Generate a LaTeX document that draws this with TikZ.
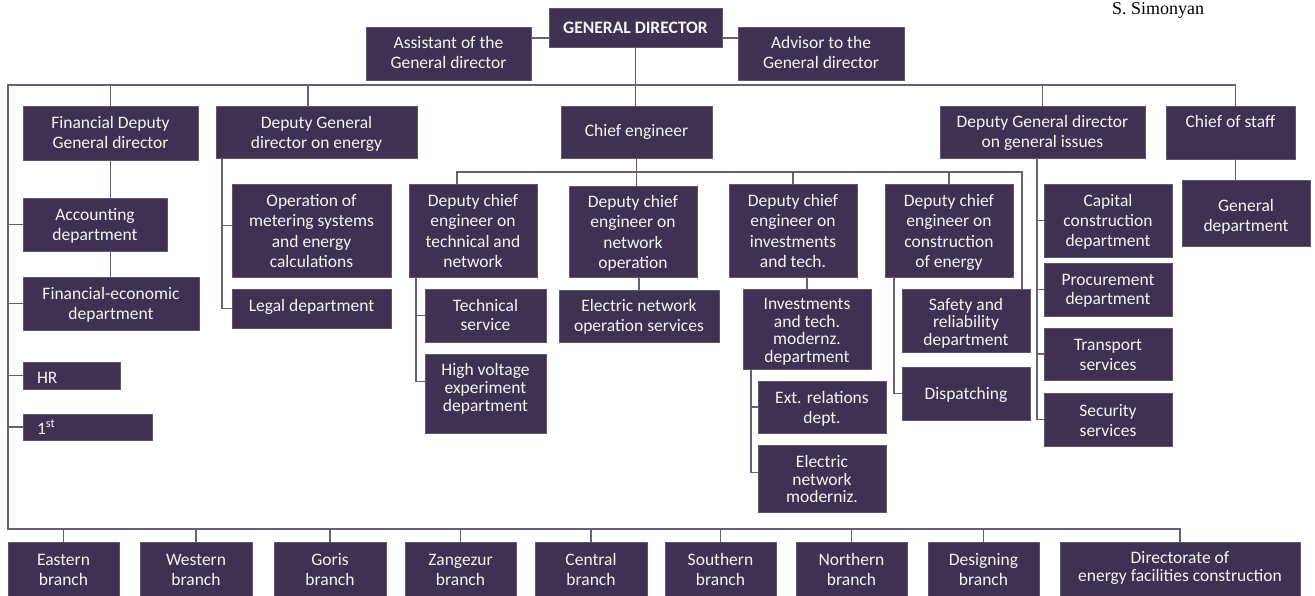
\documentclass[tikz,border=0pt]{standalone}
\usepackage{fontspec}
\setmainfont{Carlito}
\newfontfamily\timesf{Liberation Serif}
\definecolor{boxfill}{RGB}{63,49,82}
\definecolor{boxedge}{RGB}{95,85,110}
\definecolor{linec}{RGB}{105,95,122}
\tikzset{
  box/.style={fill=boxfill, draw=boxedge, line width=0.7pt, inner sep=0pt, outer sep=0pt, text=white!96!black},
  conn/.style={draw=linec, line width=1.1pt}
}
% #1 baselineskip, #2 name, #3 x1, #4 y1, #5 x2, #6 y2, #7 top pad, #8 text
\newcommand\bx[8][20]{%
  \node[box, anchor=north west] (#2) at (#3,#4)
   {\parbox[c][\dimexpr#6pt-#4pt\relax][t]{\dimexpr#5pt-#3pt\relax}{\fontsize{17.5}{#1}\selectfont\centering\vspace*{\dimexpr#7pt+2pt\relax}\strut #8\par}};}
\begin{document}
\begin{tikzpicture}[x=1pt,y=-1pt]
\useasboundingbox[fill=white] (0,0) rectangle (1315,596);
\node[anchor=base, inner sep=0pt] (auth) at (1158,15) {\timesf\fontsize{18}{20}\selectfont S. Simonyan};
% top
\bx{gd}{549}{8}{722}{47}{10}{\bfseries GENERAL DIRECTOR}
\bx{asst}{366}{27}{531}{80}{6}{Assistant of the\\General director}
\bx{adv}{738}{27}{904}{80}{6}{Advisor to the\\General director}
% second row
\bx{fin}{23}{106}{198}{160}{7}{Financial Deputy\\General director}
\bx{en}{216}{106}{417}{158}{7}{Deputy General\\director on energy}
\bx{ce}{561}{106}{712}{158}{15}{Chief engineer}
\bx{gen}{940}{106}{1145}{158}{6}{Deputy General director\\on general issues}
\bx{cos}{1166}{106}{1295}{159}{6}{Chief of staff}
% financial column
\bx{acc}{23}{198}{167}{251}{7}{Accounting\\department}
\bx{fe}{23}{277}{199}{330}{6}{Financial-economic\\department}
\bx{hr}{23}{362}{120}{389}{5}{\raggedright\hspace*{14pt}HR}
\bx{first}{23}{414}{152}{440}{4}{\raggedright\hspace*{14pt}1\textsuperscript{st}}
% energy
\bx[20.5]{op}{232}{184}{391}{277}{6}{Operation of\\metering systems\\and energy\\calculations}
\bx{legal}{232}{289}{391}{328}{7}{Legal department}
% deputy chief engineers
\bx[20.5]{dce1}{409}{184}{537}{277}{6}{Deputy chief\\engineer on\\technical and\\network}
\bx[20.5]{dce2}{569}{186}{697}{277}{5}{Deputy chief\\engineer on\\network\\operation}
\bx[20.5]{dce3}{729}{184}{857}{277}{6}{Deputy chief\\engineer on\\investments\\and tech.}
\bx[20.5]{dce4}{885}{184}{1013}{277}{6}{Deputy chief\\engineer on\\construction\\of energy}
\bx{tech}{425}{289}{546}{342}{6}{Technical\\service}
\bx[18]{hv}{425}{354}{546}{433}{7}{High voltage\\experiment\\department}
\bx{eno}{559}{290}{719}{342}{6}{Electric network\\operation services}
\bx[17.7]{inv}{743}{289}{871}{369}{6}{Investments\\and tech.\\modernz.\\department}
\bx{ext}{758}{381}{886}{433}{6}{Ext. relations\\dept.}
\bx[17]{enm}{758}{445}{886}{512}{8}{Electric\\network\\moderniz.}
\bx[17.5]{saf}{902}{289}{1030}{352}{7}{Safety and\\reliability\\department}
\bx{disp}{902}{367}{1030}{420}{16}{Dispatching}
% general issues
\bx{cap}{1044}{184}{1172}{257}{7}{Capital\\construction\\department}
\bx[19]{proc}{1044}{263}{1172}{316}{7}{Procurement\\department}
\bx{trans}{1044}{328}{1172}{380}{6}{Transport\\services}
\bx{sec}{1044}{393}{1172}{446}{7}{Security\\services}
\bx{gd2}{1182}{180}{1310}{246}{16}{General\\department}
% branches
\bx{b1}{8}{542}{119}{597}{7}{Eastern\\branch}
\bx{b2}{140}{542}{252}{597}{7}{Western\\branch}
\bx{b3}{274}{542}{386}{597}{7}{Goris\\branch}
\bx{b4}{405}{542}{516}{597}{7}{Zangezur\\branch}
\bx{b5}{535}{542}{647}{597}{7}{Central\\branch}
\bx{b6}{665}{542}{776}{597}{7}{Southern\\branch}
\bx{b7}{796}{542}{907}{597}{7}{Northern\\branch}
\bx{b8}{928}{542}{1039}{597}{7}{Designing\\branch}
\bx[18]{dir}{1060}{542}{1300}{597}{7}{Directorate of\\energy facilities construction}
% ---- helper points
\coordinate (busTL) at (8,85);
\coordinate (busBL) at (8,529);
\coordinate (ceBus) at (0,172);
\coordinate (cosTop) at ([xshift=5pt]cos.north);
\coordinate (cosBot) at ([xshift=5pt]cos.south);
\coordinate (enTop) at ([xshift=92pt]en.north west);
\coordinate (enBot) at ([xshift=6pt]en.south west);
\coordinate (opIn) at ([yshift=5pt]op.west);
\coordinate (d1Top) at ([xshift=-16pt]dce1.north);
\coordinate (d1Bot) at ([xshift=7pt]dce1.south west);
\coordinate (hvIn) at ([yshift=12pt]hv.west);
\coordinate (safTop) at ([xshift=-8pt]saf.north east);
\coordinate (invBot) at ([xshift=8pt]inv.south west);
\coordinate (enmIn) at ([yshift=6pt]enm.west);
\coordinate (d4Bot) at ([xshift=9pt]dce4.south west);
\coordinate (genBot) at ([xshift=97pt]gen.south west);
% ---- connectors
\draw[conn] (asst.east |- 0,38) -- (gd.west |- 0,38);
\draw[conn] (gd.east |- 0,38) -- (adv.west |- 0,38);
\draw[conn] (gd.south) -- (gd.south |- ce.north);
\draw[conn] (cosTop |- busTL) -- (busTL) -- (busBL) -- (busBL -| dir.north) -- (dir.north);
\draw[conn] (cosTop |- busTL) -- (cosTop);
\draw[conn] (fin.north |- busTL) -- (fin.north);
\draw[conn] (enTop |- busTL) -- (enTop);
\draw[conn] (gen.north |- busTL) -- (gen.north);
% financial
\draw[conn] (fin.south) -- (fin.south |- acc.north);
\draw[conn] (fin.south |- acc.south) -- (fin.south |- fe.north);
\foreach \n in {acc,fe,hr,first} \draw[conn] (busTL |- \n.west) -- (\n.west);
% energy
\draw[conn] (enBot) -- (enBot |- legal.west) -- (legal.west);
\draw[conn] (enBot |- opIn) -- (opIn);
% chief engineer
\draw[conn] (ce.south) -- (ce.south |- dce2.north);
\draw[conn] (d1Top) -- (d1Top |- ceBus) -- (safTop |- ceBus) -- (safTop);
\draw[conn] (dce3.north) -- (dce3.north |- ceBus);
\draw[conn] (dce4.north) -- (dce4.north |- ceBus);
% dce1
\draw[conn] (d1Bot) -- (d1Bot |- hvIn) -- (hvIn);
\draw[conn] (d1Bot |- tech.west) -- (tech.west);
% dce2, dce3
\draw[conn] (eno.north |- dce2.south) -- (eno.north);
\draw[conn] (inv.north |- dce3.south) -- (inv.north);
\draw[conn] (invBot) -- (invBot |- enmIn) -- (enmIn);
\draw[conn] (invBot |- ext.west) -- (ext.west);
% dce4
\draw[conn] (d4Bot) -- (d4Bot |- disp.west) -- (disp.west);
% general issues
\draw[conn] (genBot) -- (genBot |- sec.west) -- (sec.west);
\foreach \n in {cap,proc,trans} \draw[conn] (genBot |- \n.west) -- (\n.west);
% chief of staff
\draw[conn] (cosBot) -- (cosBot |- gd2.north);
% branches
\foreach \n in {b1,b2,b3,b4,b5,b6,b7,b8} \draw[conn] (\n.north |- busBL) -- (\n.north);
\end{tikzpicture}
\end{document}
